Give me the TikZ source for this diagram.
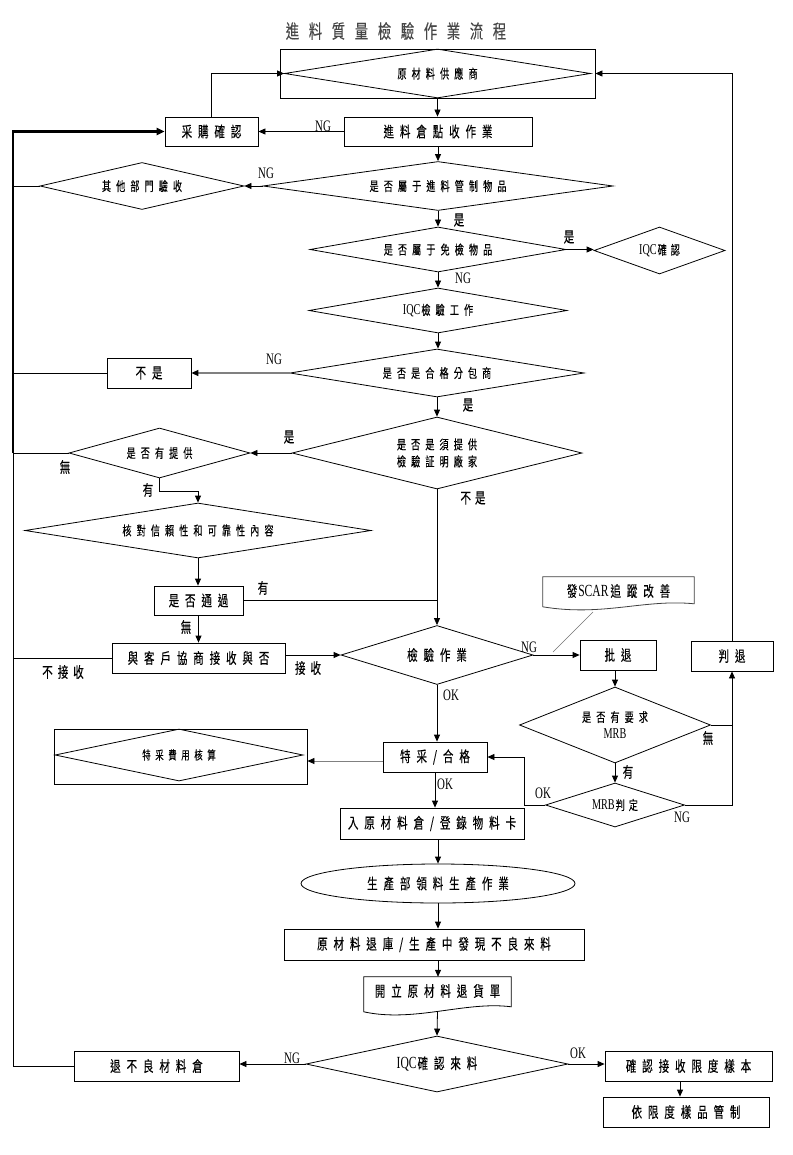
\documentclass[tikz,border=0pt]{standalone}
\usepackage{fontspec}
\usetikzlibrary{shapes.geometric,arrows.meta,calc}
\newfontfamily\cjk{Noto Sans CJK TC}[FakeStretch=0.7,FakeBold=0.2]
\newfontfamily\latf{Liberation Serif}[FakeStretch=0.68]
\ExplSyntaxOn
\seq_new:N \l_rs_chars_seq
\NewDocumentCommand\spc{O{5.9pt}m}{
  \seq_clear:N \l_rs_chars_seq
  \tl_map_inline:nn {#2}{\seq_put_right:Nn \l_rs_chars_seq {##1}}
  \seq_use:Nn \l_rs_chars_seq {\hspace*{#1}}
}
\ExplSyntaxOff
\newcommand\IQCs{{\latf\fontsize{15}{16}\selectfont IQC}}
\newcommand\IQCb{{\latf\fontsize{17}{18}\selectfont IQC}}
\newcommand\MRBs{{\latf\fontsize{15}{16}\selectfont MRB}}
\newcommand\SCARb{{\latf\fontsize{17}{18}\selectfont SCAR}}
\tikzset{
  ln/.style={line width=0.8pt},
  atip/.style={-{Triangle[length=7pt,width=6pt]}},
  arr/.style={ln, atip},
  boxfont/.style={font=\cjk\fontsize{15}{17}\selectfont},
  diafont/.style={font=\cjk\fontsize{13}{15}\selectfont},
  base/.style={draw, ln, inner sep=0pt, align=center},
  bx/.style={base, rectangle, boxfont},
  dia/.style={base, diamond, diafont},
  sz/.style 2 args={minimum width=#1pt, minimum height=#2pt},
  dsz/.style n args={3}{minimum width=#1pt, minimum height=#2pt, shape aspect=#3},
  lab/.style={inner sep=0pt, font=\cjk\fontsize{15}{16}\selectfont},
  llab/.style={inner sep=0pt, font=\latf\fontsize{16}{16}\selectfont},
  heading/.style={inner sep=0pt, font=\cjk\fontsize{19}{20}\selectfont, text=black!72},
  plainrect/.style={draw, ln, rectangle, inner sep=0pt},
  grayarr/.style={ln, draw=black!50, -{Triangle[length=7pt,width=6pt,color=black]}},
}
\begin{document}
\begin{tikzpicture}[x=1pt,y=-1pt]
\fill[white] (0,0) rectangle (792,1155);
\useasboundingbox (0,0) rectangle (792,1155);
\coordinate (L) at (13,0);

\node[heading] (title) at (396,31) {\spc[9.7pt]{進料質量檢驗作業流程}};

% top
\node[plainrect, sz={315}{49}] (supbox) at (437.5,73.5) {};
\node[dia, dsz={306}{49}{6.2}] (sup) at (437.5,73.5) {\spc[5.1pt]{原材料供應商}};
\node[bx, sz={188}{29}] (recv) at (438,131.5) {\spc{進料倉點收作業}};
\node[bx, sz={93}{29}] (buy) at (211.5,131.5) {\spc{采購確認}};
\node[dia, dsz={350}{49}{7.1}] (ctrl) at (438,186) {\spc[5.1pt]{是否屬于進料管制物品}};
\node[dia, dsz={204}{47}{4.3}] (other) at (142,186) {\spc[5.1pt]{其他部門驗收}};
\node[dia, dsz={256}{45}{5.7}] (exempt) at (438,249.5) {\spc[5.1pt]{是否屬于免檢物品}};
\node[dia, dsz={131}{47}{2.8}] (iqcok) at (659.5,250.5) {\IQCs\hspace{1pt}\spc[4pt]{確認}};
\node[dia, dsz={258}{45}{5.7}] (iqcwork) at (438,310.5) {\IQCs\hspace{1pt}\spc[5.1pt]{檢驗工作}};
\node[dia, dsz={294}{48}{6.1}] (subc) at (437,373) {\spc[5.1pt]{是否是合格分包商}};
\node[bx, sz={84}{30}] (nono) at (149,373) {\spc{不是}};
\node[dia, dsz={290}{72}{4}] (need) at (437,453) {\spc[5.1pt]{是否是須提供}\\[2pt]\spc[5.1pt]{檢驗証明廠家}};
\node[dia, dsz={181}{50}{3.6}] (prov) at (159.5,453) {\spc[5.1pt]{是否有提供}};
\node[dia, dsz={346}{55}{6.3}] (check) at (198,530.5) {\spc[5.1pt]{核對信賴性和可靠性內容}};
\node[bx, sz={89}{29}] (pass) at (198.5,600.5) {\spc{是否通過}};
\node[bx, sz={173}{30}] (nego) at (198.5,658) {\spc{與客戶協商接收與否}};
\node[dia, boxfont, dsz={192}{59}{3.3}] (insp) at (437,655) {\spc{檢驗作業}};

% right side
\node[inner sep=0pt, sz={151}{28}, boxfont] (scar) at (618.5,591) {發\hspace{1pt}\SCARb\hspace{2pt}\spc{追蹤改善}};
\draw[ln, draw=black!75] (scar.north west) -- (scar.north east) -- ($(scar.north east)+(0,27)$)
  .. controls ($(scar.north east)+(-50,22)$) and ($(scar.north west)+(60,40)$) .. ($(scar.north west)+(0,30)$) -- cycle;
\coordinate (cl1) at (593,612);
\coordinate (cl2) at (553,652);
\draw[ln, draw=black!55, line width=0.6pt] (cl1) -- (cl2);
\node[bx, sz={76}{30}] (rej) at (618,655) {\spc{批退}};
\node[bx, sz={82}{30}] (judge) at (732,656) {\spc{判退}};
\node[dia, dsz={191}{76}{2.5}] (mrb) at (615,725) {\spc[5.1pt]{是否有要求}\\[2pt]\MRBs};
\node[dia, dsz={139}{44}{3.2}] (mrbj) at (615,805) {\MRBs\hspace{1pt}\spc[4pt]{判定}};
\coordinate (okx) at (524,757);

% lower middle
\node[bx, sz={104}{30}] (spec) at (435,757) {\spc{特采/合格}};
\node[plainrect, sz={253}{55}] (feebox) at (180.5,756.5) {};
\node[dia, dsz={248}{52}{4.8}, font=\cjk\fontsize{12}{13}\selectfont] (fee) at (179,755) {\spc[4.6pt]{特采費用核算}};
\node[bx, sz={184}{31}] (store) at (432,823.5) {\spc{入原材料倉/登錄物料卡}};
\node[base, ellipse, boxfont, sz={274}{39}] (prod) at (438,883.5) {\spc{生產部領料生產作業}};
\node[bx, sz={300}{31}] (back) at (434,944.5) {\spc{原材料退庫/生產中發現不良來料}};
\node[inner sep=0pt, sz={147}{28}, boxfont] (doc) at (437.5,991) {\spc{開立原材料退貨單}};
\draw[ln] (doc.north west) -- (doc.north east) -- ($(doc.north east)+(0,30)$)
  .. controls ($(doc.north east)+(-45,24)$) and ($(doc.north west)+(50,46)$) .. ($(doc.north west)+(0,35)$) -- cycle;
\node[dia, boxfont, dsz={262}{56}{4.7}] (iqcin) at (437,1064) {\IQCb\hspace{1pt}\spc{確認來料}};
\node[bx, sz={165}{30}] (bad) at (156.5,1066) {\spc{退不良材料倉}};
\node[bx, sz={167}{30}] (limit) at (688.5,1066) {\spc{確認接收限度樣本}};
\node[bx, sz={166}{30}] (ctrl2) at (686,1112) {\spc{依限度樣品管制}};

% connectors
\draw[arr] (sup.south) -- (sup.south |- recv.north);
\draw[arr] (recv.west) -- (buy.east);
\draw[arr] (buy.north) |- (sup.west);
\draw[arr] (judge.north) |- (supbox.east);
\draw[arr] (recv.south) -- (ctrl.north);
\draw[arr] (ctrl.west) -- (other.east);
\draw[ln] (other.west) -- (other.west -| L);
\draw[arr] (ctrl.south) -- (exempt.north);
\draw[arr] (exempt.east) -- (exempt.east -| iqcok.west);
\draw[arr] (exempt.south) -- (exempt.south |- iqcwork.north);
\draw[arr] (iqcwork.south) -- (iqcwork.south |- subc.north);
\draw[ln, draw=black!50, line width=1.3pt, -{Triangle[length=7pt,width=6pt,color=black]}] (subc.west) -- (nono.east);
\draw[ln] (nono.west) -- (nono.west -| L);
\draw[arr] (subc.south) -- (need.north);
\draw[arr] (need.west) -- (prov.east);
\draw[ln] (prov.west) -- (prov.west -| L);
\draw[line width=2.5pt, -{Triangle[length=8pt,width=7pt]}] (prov.west -| L) -- (buy.west -| L) -- (buy.west);
\draw[ln] (bad.west) -| (prov.west -| L);
\draw[ln] (nego.west) -- (nego.west -| L);
\draw[arr] (prov.south) -- ++(0,13) -| (check.north);
\draw[arr] (check.south) -- (check.south |- pass.north);
\draw[ln] (pass.east) -- (pass.east -| insp.north);
\draw[arr] (need.south) -- (insp.north);
\draw[arr] (pass.south) -- (pass.south |- nego.north);
\draw[arr] (nego.east |- insp.west) -- (insp.west);
\draw[arr] (insp.east) -- (insp.east -| rej.west);
\draw[arr] (rej.south -| mrb.north) -- (mrb.north);
\draw[arr] (mrb.east) -| (judge.south);
\draw[ln] (mrbj.east) -| (mrb.east -| judge.south);
\draw[arr] (mrb.south) -- (mrbj.north);
\draw[arr] (mrbj.west) -| (okx) -- (spec.east);
\draw[arr] (insp.south) -- (insp.south |- spec.north);
\coordinate (s1) at ($(spec.west)+(0,4)$);
\draw[grayarr] (s1) -- (s1 -| feebox.east);
\draw[arr] (spec.south) -- (spec.south |- store.north);
\draw[arr] (prod.north |- store.south) -- (prod.north);
\draw[arr] (prod.south) -- (prod.south |- back.north);
\draw[arr] (prod.south |- back.south) -- (prod.south |- doc.north);
\draw[arr] (doc.south) ++(0,6) -- (iqcin.north);
\draw[arr] (iqcin.west) -- (iqcin.west -| bad.east);
\draw[arr] (iqcin.east) -- (iqcin.east -| limit.west);
\coordinate (lm) at ($(limit.south)+(-8.5,0)$);
\draw[arr] (lm) -- (lm |- ctrl2.north);

% labels
\node[llab] (ng1) at (323,126) {NG};
\node[llab] (ng2) at (266,173) {NG};
\node[llab] (ng3) at (463,278) {NG};
\node[llab] (ng4) at (274,359) {NG};
\node[llab] (ng5) at (529,647) {NG};
\node[llab] (ng6) at (682,817) {NG};
\node[llab] (ng7) at (292,1058) {NG};
\node[llab] (ok1) at (451,695) {OK};
\node[llab] (ok2) at (445,784) {OK};
\node[llab] (ok3) at (543,793) {OK};
\node[llab] (ok4) at (578,1053) {OK};
\node[lab] (y1) at (459,220) {是};
\node[lab] (y2) at (569,237) {是};
\node[lab] (y3) at (468,405) {是};
\node[lab] (y4) at (289,437) {是};
\node[lab] (w1) at (65,467) {無};
\node[lab] (h1) at (148,490) {有};
\node[lab] (n1) at (473,498) {\spc[4pt]{不是}};
\node[lab] (h2) at (263,588) {有};
\node[lab] (w2) at (186,627) {無};
\node[lab] (nr) at (63,672) {\spc[5pt]{不接收}};
\node[lab] (rc) at (308,668) {\spc[5pt]{接收}};
\node[lab] (w3) at (708,738) {無};
\node[lab] (h3) at (628,772) {有};
\end{tikzpicture}
\end{document}
